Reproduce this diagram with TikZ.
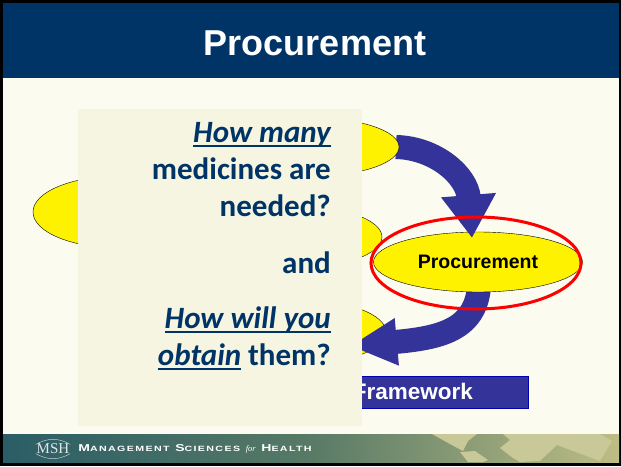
\documentclass[tikz,border=0pt]{standalone}
\usepackage{fontspec}
\setmainfont{Liberation Sans}
\newfontfamily\panelfont{Carlito}
\newfontfamily\footfont[LetterSpace=18,FakeStretch=1.4]{Liberation Sans}
\newfontfamily\logofont{Liberation Serif}
\usetikzlibrary{positioning, arrows.meta, shapes.geometric}

\definecolor{navy}{HTML}{003366}
\definecolor{cream}{HTML}{FBFBEF}
\definecolor{panelbg}{HTML}{F5F5E1}
\definecolor{flowblue}{HTML}{333399}
\definecolor{footteal}{HTML}{2A5D66}
\definecolor{footmid}{HTML}{587A66}
\definecolor{footolive}{HTML}{BDBD85}
\definecolor{footmap}{HTML}{C8C898}

\newsavebox\ulbox
\newcommand{\ulword}[1]{\sbox\ulbox{#1}\rlap{\rule[-5pt]{\wd\ulbox}{2.2pt}}\usebox\ulbox}
\newcommand{\smallcap}[2]{{\fontsize{10}{10.5}\selectfont #1}{\fontsize{7.6}{8}\selectfont #2}}

\begin{document}
\begin{tikzpicture}[
      x=1pt, y=-1pt,
      stepnode/.style={
        ellipse,
        draw=black,
        fill=yellow,
        inner sep=0pt,
        minimum width=172pt,
      },
      flowarrow/.style={
        draw=flowblue,
        line width=24pt,
      },
      panelbox/.style={
        rectangle,
        fill=panelbg,
        inner sep=0pt,
      }
    ]
      % declare layers
      \pgfdeclarelayer{background}
      \pgfdeclarelayer{front}
      \pgfsetlayers{background,main,front}

      % page, header and footer
      \begin{pgfonlayer}{background}
        \fill[black] (0,0) rectangle (621,466);
        \fill[cream] (3,78) rectangle (619,434);
        \fill[navy] (3,3) rectangle (619,78);
        \shade[left color=footteal, right color=footolive, middle color=footmid] (3,434) rectangle (619,462);
        % faint world map
        \fill[footmap] (432,434) -- (477,434) -- (468,441) -- (463,451) -- (450,444) -- cycle;
        \fill[footmap] (460,452) -- (475,451) -- (488,460) -- (483,462) -- (468,462) -- cycle;
        \fill[footmap] (503,434) -- (600,434) -- (612,441) -- (600,461) -- (573,451) -- (557,445) -- (540,461) -- (520,462) -- (513,458) -- (500,448) -- (510,440) -- cycle;

        % hidden steps
        \node[stepnode, minimum height=72pt] (stepleft) at (119,212) {};
        \node[stepnode, minimum height=62pt] (stepmid) at (296,237) {};
        \node[stepnode, minimum height=64pt] (stepbottom) at (300,332) {};
      \end{pgfonlayer}

      % procurement step
      \node[stepnode, minimum width=209pt, minimum height=60pt, font=\fontsize{19.5}{22}\selectfont\bfseries] (proc) at (478,262) {Procurement};

      % title and footer text
      \node[text=white, font=\fontsize{36}{40}\selectfont\bfseries] (title) at (315,43) {Procurement};
      \node[inner sep=0pt, minimum width=34pt, minimum height=16pt, text=white!85!footteal, font=\logofont\fontsize{15}{16}\selectfont] (logo) at (53,449) {MSH};
      \draw[white!70!footteal, line width=0.5pt] (logo.165) to[bend left=30] (logo.15);
      \draw[white!70!footteal, line width=0.5pt] (logo.195) to[bend right=30] (logo.345);
      \node[right=8pt of logo, inner sep=0pt, text=white, font=\footfont\bfseries] (orgname) {\smallcap{M}{ANAGEMENT} \smallcap{S}{CIENCES} {\logofont\itshape\mdseries\fontsize{8.5}{9}\selectfont for} \smallcap{H}{EALTH}};

      % top step sits over its arrow
      \begin{pgfonlayer}{front}
        \node[stepnode, minimum height=58pt] (steptop) at (313,147) {};
        \node[ellipse, draw=red, line width=3pt, inner sep=0pt, minimum width=210pt, minimum height=92pt] (ring) at (476,263) {};
        \node[rectangle, draw=blue!70!black, fill=flowblue, inner sep=0pt, minimum width=188pt, minimum height=32pt] (frame) at (434,392) {};
        \node[anchor=east, inner sep=0pt, text=white, font=\fontsize{22.5}{24}\selectfont\bfseries] (framelabel) at (473,391) {Framework};

        % text panel
        \node[panelbox, minimum width=284pt, minimum height=317pt] (panel) at (220,267.5) {};
        \node[anchor=north east, inner sep=0pt, align=right, text=navy, font=\panelfont\bfseries\fontsize{31}{37}\selectfont] (question) at (331,122) {%
          \ulword{\itshape How many}\\
          medicines are\\
          needed?\\[20pt]
          and\\[18pt]
          \ulword{\itshape How will you}\\
          \ulword{\itshape obtain} them?};
      \end{pgfonlayer}

      % big arrows
      \coordinate (tipa) at (472,238);
      \coordinate (tipb) at (350,346);
      \draw[flowarrow, -{Triangle[length=43pt,width=52pt]}] (steptop.center) ++(83,0) .. controls (436,148) and (467,176) .. (tipa);
      \begin{pgfonlayer}{background}
        \draw[flowarrow, -{Triangle[length=47pt,width=44pt]}] (proc.south) ++(1,-5) .. controls (475,330) and (440,338) .. (tipb);
      \end{pgfonlayer}
    \end{tikzpicture}
\end{document}
